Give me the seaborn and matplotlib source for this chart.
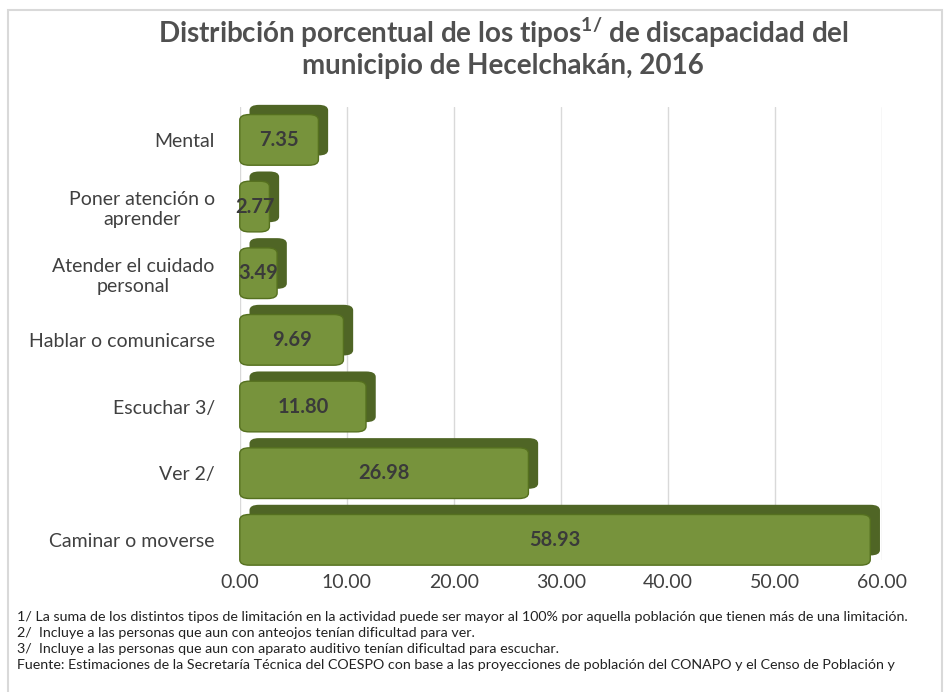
import matplotlib
matplotlib.use('Agg')
import matplotlib.pyplot as plt
import matplotlib.patheffects as pe
from matplotlib.patches import FancyBboxPatch, Rectangle
import seaborn as sns
import pandas as pd

categorias = ['Mental', 'Poner atención o\naprender', 'Atender el cuidado\npersonal',
              'Hablar o comunicarse', 'Escuchar 3/', 'Ver 2/', 'Caminar o moverse']
porcentajes = [7.35, 2.77, 3.49, 9.69, 11.80, 26.98, 58.93]
ticks_x = [0, 10, 20, 30, 40, 50, 60]
notas = [
    '1/ La suma de los distintos tipos de limitación en la actividad puede ser mayor al 100% por aquella población que tienen más de una limitación.',
    '2/  Incluye a las personas que aun con anteojos tenían dificultad para ver.',
    '3/  Incluye a las personas que aun con aparato auditivo tenían dificultad para escuchar.',
    'Fuente: Estimaciones de la Secretaría Técnica del COESPO con base a las proyecciones de población del CONAPO y el Censo de Población y',
]

df = pd.DataFrame({'tipo': categorias, 'pct': porcentajes})

sns.set_style('white')
plt.rcParams['font.family'] = ['Lato', 'DejaVu Sans']

fig = plt.figure(figsize=(9.44, 6.92), dpi=100)
ax = fig.add_axes([0.254, 0.191, 0.68, 0.655])

sns.barplot(data=df, y='tipo', x='pct', color='#77933c', width=0.76, ax=ax,
            saturation=1, zorder=3)

# rounded, extruded look for each bar
for p in list(ax.patches):
    x0, y0, w, h = p.get_x(), p.get_y(), p.get_width(), p.get_height()
    p.set_visible(False)
    box = FancyBboxPatch((x0, y0), w, h, boxstyle='round,pad=0,rounding_size=0.9',
                         mutation_aspect=0.09, facecolor='#77933c', edgecolor='#55701f',
                         linewidth=1.0, zorder=3, clip_on=False)
    box.set_path_effects([pe.SimplePatchShadow(offset=(7, 7), shadow_rgbFace='#4f6525',
                                               alpha=1.0), pe.Normal()])
    ax.add_patch(box)

for i, v in enumerate(porcentajes):
    ax.text(v / 2, i, f'{v:.2f}', ha='center', va='center', fontsize=14.5,
            fontweight='bold', color='#3a3a3a', zorder=5)

ax.set_xlim(0, 60)
ax.set_ylim(6.3, -0.5)
ax.set_xticks(ticks_x)
ax.set_xticklabels([f'{t:.2f}' for t in ticks_x], fontsize=14, color='#404040')
ax.tick_params(axis='y', labelsize=14, labelcolor='#404040', length=0, pad=18)
ax.tick_params(axis='x', length=0, pad=10)
for lab in ax.get_yticklabels():
    lab.set_horizontalalignment('right')
    lab.set_multialignment('center')
ax.set_xlabel('')
ax.set_ylabel('')
ax.grid(axis='x', color='#d9d9d9', linewidth=1, zorder=0)
sns.despine(ax=ax, left=True, bottom=True)

fig.text(0.533, 0.953, r'Distribción porcentual de los tipos$^{\mathregular{1/}}$ de discapacidad del',
         ha='center', va='center', fontsize=20, fontweight='bold', color='#505050')
fig.text(0.533, 0.905, 'municipio de Hecelchakán, 2016', ha='center', va='center',
         fontsize=20, fontweight='bold', color='#505050')

y = 0.108
for n in notas:
    fig.text(0.018, y, n, ha='left', va='center', fontsize=10.3, color='#222222',
             family=['Liberation Sans Narrow', 'Lato', 'DejaVu Sans'])
    y -= 0.023

fig.patches.append(Rectangle((0.008, -0.01), 0.99, 0.996, transform=fig.transFigure,
                             fill=False, edgecolor='#d9d9d9', linewidth=1.5))

fig.savefig('out.png', dpi=100)
